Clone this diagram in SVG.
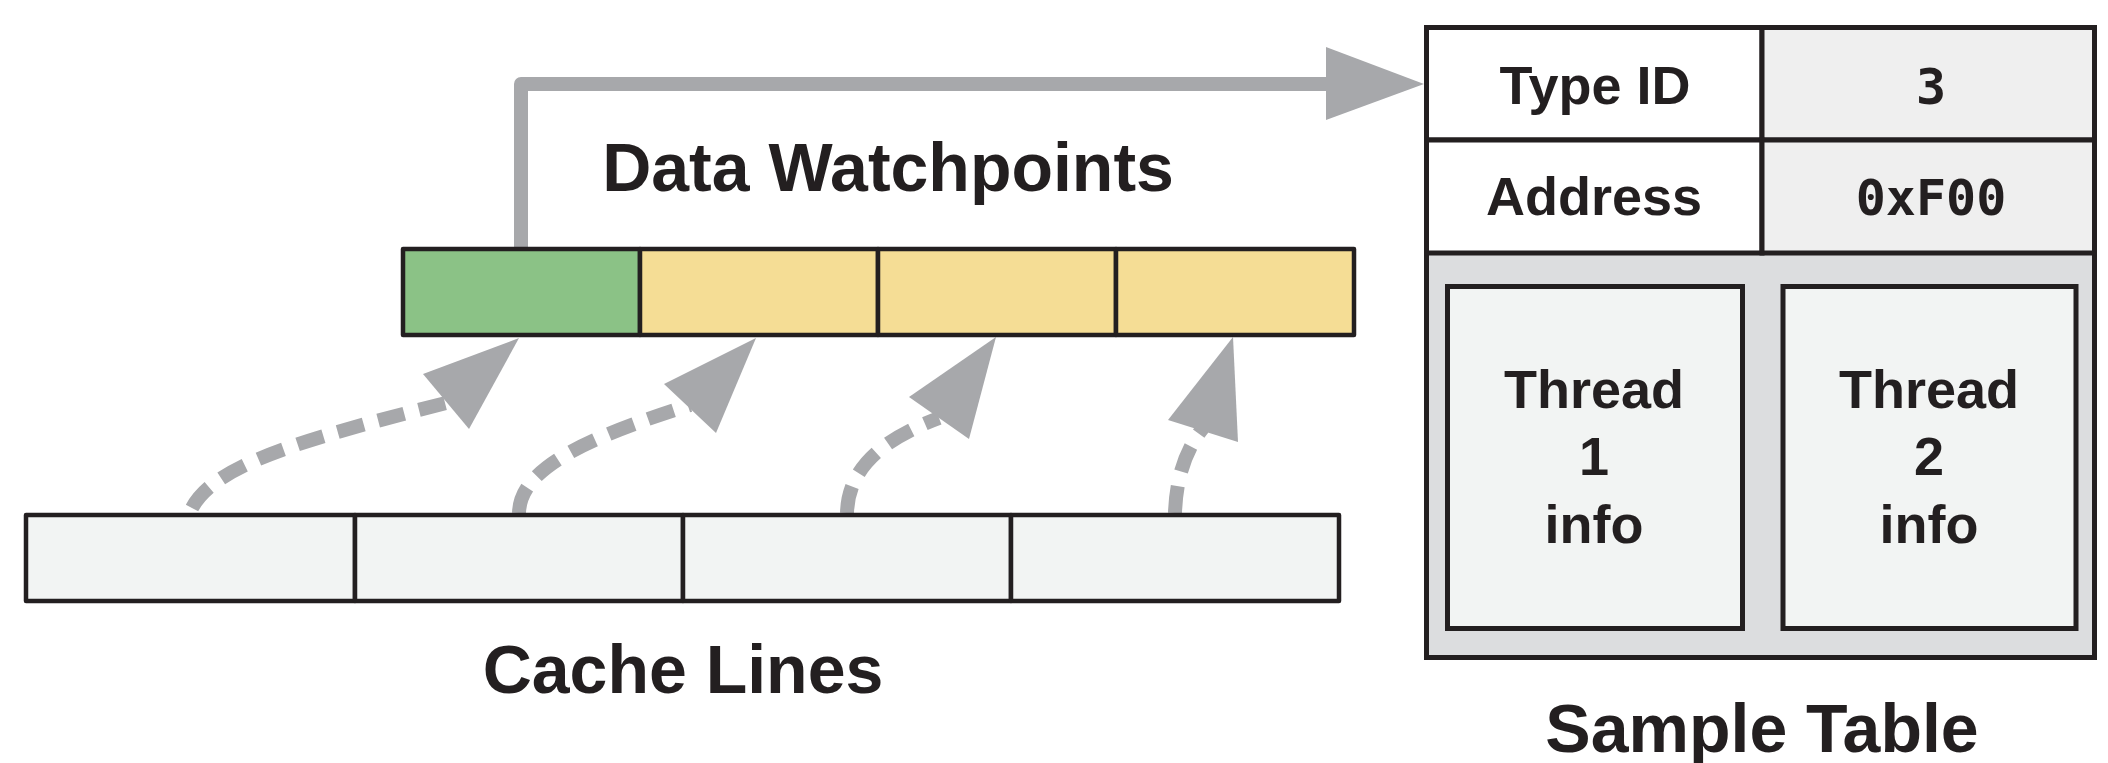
<svg xmlns="http://www.w3.org/2000/svg" width="2108" height="763" viewBox="0 0 2108 763">
<style>
.cell{stroke:#231F20;stroke-width:4.5;stroke-linejoin:round}
.green{fill:#8BC286}
.yellow{fill:#F5DD95}
.light{fill:#F2F4F3}
.lbl{font-family:"Liberation Sans",Arial,sans-serif;font-weight:bold;fill:#231F20;text-anchor:middle}
.big{font-size:68px}
.tbl{font-size:54px}
.mono{font-family:"DejaVu Sans Mono",monospace;font-weight:bold;font-size:50px;fill:#231F20;text-anchor:middle}
.dash{fill:none;stroke:#A7A8AB;stroke-width:14;stroke-dasharray:27 15}
.head{fill:#A7A8AB}
</style>
<rect width="2108" height="763" fill="#FFFFFF"/>
<g id="connectors">
  <path d="M521,249 V84 H1330" fill="none" stroke="#A7A8AB" stroke-width="14" stroke-linejoin="round"/>
  <polygon class="head" points="1326,47 1424,84 1326,120"/>
  <path class="dash" d="M192,508 C215,465 300,440 446,403"/>
  <polygon class="head" points="519,338 423,374 469,429"/>
  <path class="dash" d="M519,513 C520,470 580,440 690,405"/>
  <polygon class="head" points="756,338 664,384 716,433"/>
  <path class="dash" d="M847,513 C848,470 880,440 939,418"/>
  <polygon class="head" points="996,337 909,397 969,439"/>
  <path class="dash" d="M1175,513 C1176,480 1185,450 1203,428"/>
  <polygon class="head" points="1233,337 1168,420 1238,442"/>
</g>
<g id="watchpoints">
  <rect class="cell green" x="403" y="249" width="237" height="86"/>
  <rect class="cell yellow" x="640" y="249" width="238" height="86"/>
  <rect class="cell yellow" x="878" y="249" width="238" height="86"/>
  <rect class="cell yellow" x="1116" y="249" width="238" height="86"/>
  <text class="lbl big" x="888" y="191">Data Watchpoints</text>
</g>
<g id="cache-lines">
  <rect class="cell light" x="26" y="515" width="329" height="86"/>
  <rect class="cell light" x="355" y="515" width="328" height="86"/>
  <rect class="cell light" x="683" y="515" width="328" height="86"/>
  <rect class="cell light" x="1011" y="515" width="328" height="86"/>
  <text class="lbl big" x="683" y="693">Cache Lines</text>
</g>
<g id="sample-table">
  <rect x="1426.5" y="27.5" width="668" height="630" fill="#DCDDDF" stroke="#231F20" stroke-width="5"/>
  <rect x="1426.5" y="27.5" width="335.5" height="112.5" fill="#FFFFFF" stroke="#231F20" stroke-width="5"/>
  <rect x="1762" y="27.5" width="332.5" height="112.5" fill="#EFEFEF" stroke="#231F20" stroke-width="5"/>
  <rect x="1426.5" y="140" width="335.5" height="113" fill="#FFFFFF" stroke="#231F20" stroke-width="5"/>
  <rect x="1762" y="140" width="332.5" height="113" fill="#EFEFEF" stroke="#231F20" stroke-width="5"/>
  <text class="lbl tbl" x="1595" y="104">Type ID</text>
  <text class="mono" x="1931" y="104">3</text>
  <text class="lbl tbl" x="1594" y="215">Address</text>
  <text class="mono" x="1931" y="215">0xF00</text>
  <g id="thread1">
    <rect x="1447.5" y="286.5" width="295" height="342" fill="#F2F4F3" stroke="#231F20" stroke-width="5"/>
    <text class="lbl tbl" x="1594" y="408">Thread</text>
    <text class="lbl tbl" x="1594" y="475">1</text>
    <text class="lbl tbl" x="1594" y="543">info</text>
  </g>
  <g id="thread2">
    <rect x="1783" y="286.5" width="293" height="342" fill="#F2F4F3" stroke="#231F20" stroke-width="5"/>
    <text class="lbl tbl" x="1929" y="408">Thread</text>
    <text class="lbl tbl" x="1929" y="475">2</text>
    <text class="lbl tbl" x="1929" y="543">info</text>
  </g>
  <text class="lbl big" x="1762" y="752">Sample Table</text>
</g>
</svg>
